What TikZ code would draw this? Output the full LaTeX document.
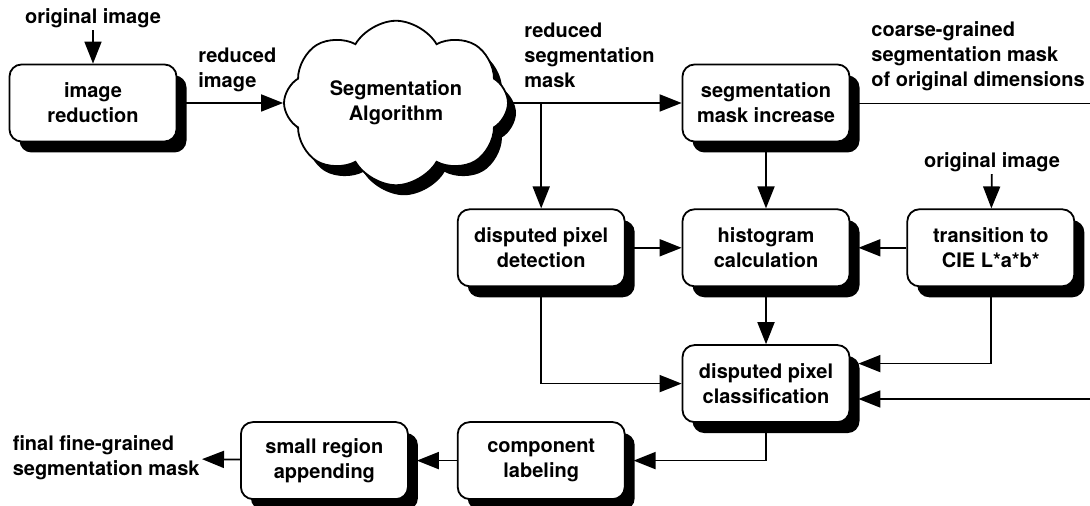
\documentclass[tikz,border=0pt]{standalone}
\usepackage{fontspec}
\setmainfont{TeX Gyre Heros}
\usetikzlibrary{positioning, arrows.meta, shapes.symbols, shadows}

\begin{document}
\begin{tikzpicture}[x=0.5pt, y=-0.5pt,
  proc/.style={draw, line width=0.9pt, rounded corners=6pt, fill=white,
               minimum width=83.5pt, minimum height=38.5pt, align=center, inner sep=2pt,
               font=\fontsize{10}{12.5}\selectfont\bfseries,
               drop shadow={shadow xshift=5pt, shadow yshift=-5.5pt, fill=black, opacity=1}},
  algo/.style={cloud, cloud puffs=8, cloud puff arc=120, aspect=1.6, draw, line width=0.9pt,
               fill=white, minimum width=112pt, minimum height=73pt, align=center,
               font=\fontsize{10}{12.5}\selectfont\bfseries,
               drop shadow={shadow xshift=4pt, shadow yshift=-5pt, fill=black, opacity=1}},
  arr/.style={-{Triangle[length=11pt, width=8.5pt]}, line width=0.9pt},
  lbl/.style={font=\fontsize{10}{12.5}\selectfont\bfseries, inner sep=1pt},
]
\useasboundingbox (0,0) rectangle (1090,506);

% r1: reduction, segmentation, mask increase
\node[proc] (red) at (93,103) {image\\reduction};
\node[algo] (seg) at (396,103) {Segmentation\\Algorithm};
\node[proc] (inc) at (766,103) {segmentation\\mask increase};

% r2: detection, histogram, colour transition
\node[proc, below=33pt of inc] (hist) {histogram\\calculation};
\node[proc, left=28pt of hist] (det) {disputed pixel\\detection};
\node[proc, right=28pt of hist] (lab) {transition to\\CIE L*a*b*};

% r3: classification
\node[proc, below=28.5pt of hist] (cls) {disputed pixel\\classification};

% r4: labeling and appending
\node[proc, below=67pt of det] (comp) {component\\labeling};
\node[proc, left=24pt of comp] (app) {small region\\appending};

% labels
\node[lbl] (orig1) at (93,18) {original image};
\node[lbl] (orig2) at (992,162) {original image};
\node[lbl, anchor=west, align=left] (lred) at (196,70) {reduced\\image};
\node[lbl, anchor=west, align=left] (lmask) at (522,55) {reduced\\segmentation\\mask};
\node[lbl, anchor=west, align=left] (lcoarse) at (869,56) {coarse-grained\\segmentation mask\\of original dimensions};
\node[lbl, anchor=east, align=left] (final) at (202,458) {final fine-grained\\segmentation mask};

\coordinate (outR) at (1090,103);
\coordinate (fb) at (1090,399);

% connectors
\draw[arr] (orig1) -- (red);
\draw[arr] (red) -- (seg);
\draw[arr] (seg) -- (inc);
\draw[arr] (det.north |- inc.west) -- (det);
\draw (inc) -- (outR);
\draw[arr] (inc) -- (hist);
\draw[arr] (det) -- (hist);
\draw[arr] (orig2) -- (lab);
\draw[arr, shorten >=4pt] (lab) -- (hist);
\draw[arr] (hist) -- (cls);
\draw[arr] (det.south) |- (cls.west);
\draw[arr, shorten >=4pt] (lab.south) |- ([yshift=10pt]cls.east);
\draw[arr, shorten >=4pt] (fb) -- (fb -| cls.east);
\draw[arr, shorten >=4pt] (cls.south) |- (comp.east);
\draw[arr, shorten >=4pt] (comp) -- (app);
\draw[arr] (app) -- (final);

\end{tikzpicture}
\end{document}
